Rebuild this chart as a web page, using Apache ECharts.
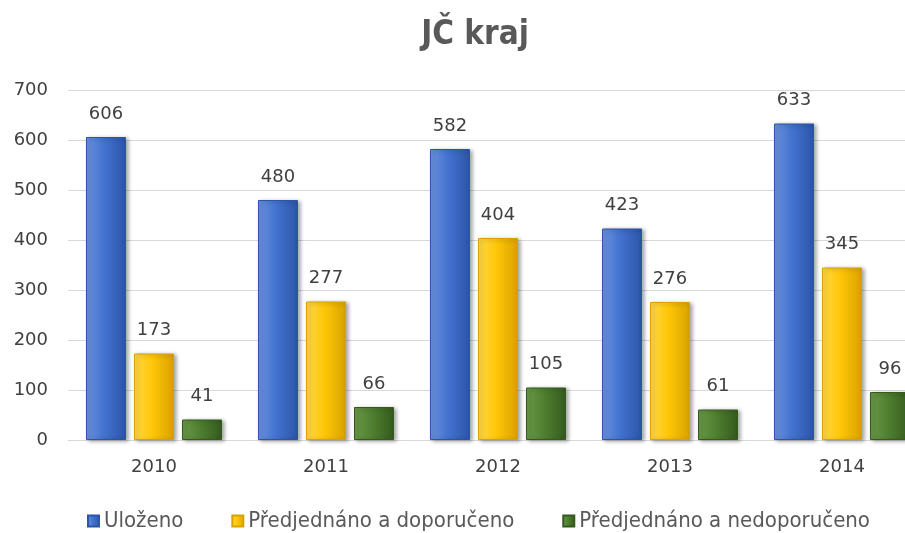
<!DOCTYPE html>
<html>
<head>
<meta charset="utf-8">
<script src="https://cdn.jsdelivr.net/npm/echarts@6/dist/echarts.min.js"></script>
<style>
  html, body { margin: 0; padding: 0; background: #fff; overflow: hidden; }
  /* plot area runs past the right edge in the source picture */
  #chart { width: 930px; height: 533px; }
</style>
</head>
<body>
<div id="chart"></div>
<script>
// data
const years = ['2010', '2011', '2012', '2013', '2014']
const ulozeno = [606, 480, 582, 423, 633]
const doporuceno = [173, 277, 404, 276, 345]
const nedoporuceno = [41, 66, 105, 61, 96]
const seriesNames = ['Uloženo', 'Předjednáno a doporučeno', 'Předjednáno a nedoporučeno']

const narrow = '"DejaVu Sans Condensed", "Liberation Sans Narrow", sans-serif'
const numFont = '"DejaVu Sans", Verdana, sans-serif'

// horizontal gradient to mimic the bevelled Excel bars
function bevel (light, mid, dark) {
  return new echarts.graphic.LinearGradient(0, 0, 1, 0, [
    { offset: 0, color: light },
    { offset: 0.45, color: mid },
    { offset: 1, color: dark }
  ])
}

function makeSeries (name, values, light, mid, dark) {
  return {
    name: name,
    type: 'bar',
    data: values,
    barWidth: 40,
    barGap: '20%',
    itemStyle: {
      color: bevel(light, mid, dark),
      borderColor: dark,
      borderWidth: 1,
      shadowColor: 'rgba(0,0,0,0.35)',
      shadowBlur: 4,
      shadowOffsetX: 2,
      shadowOffsetY: 1
    },
    label: {
      show: true,
      position: 'top',
      distance: 14,
      color: '#404040',
      fontFamily: numFont,
      fontSize: 18
    }
  }
}

const chart = echarts.init(document.getElementById('chart'))
chart.setOption({
  animation: false,
  title: {
    text: 'JČ kraj',
    left: 470,
    textAlign: 'center',
    top: 14,
    textStyle: {
      fontFamily: narrow,
      fontWeight: 'bold',
      fontSize: 33,
      color: '#595959'
    }
  },
  color: ['#4472c4', '#ffc000', '#4e7d2f'],
  legend: {
    bottom: -4,
    left: 82,
    itemWidth: 11,
    itemHeight: 11,
    itemGap: 48,
    icon: 'rect',
    data: seriesNames,
    textStyle: {
      fontFamily: narrow,
      fontSize: 22,
      color: '#595959'
    }
  },
  grid: {
    left: 68,
    top: 90,
    right: 2,
    height: 350
  },
  xAxis: {
    type: 'category',
    data: years,
    axisTick: { show: false },
    axisLine: { lineStyle: { color: '#d9d9d9' } },
    axisLabel: {
      margin: 18,
      color: '#404040',
      fontFamily: numFont,
      fontSize: 18
    }
  },
  yAxis: {
    type: 'value',
    min: 0,
    max: 700,
    interval: 100,
    axisLine: { show: false },
    axisTick: { show: false },
    splitLine: { lineStyle: { color: '#d9d9d9' } },
    axisLabel: {
      margin: 20,
      color: '#404040',
      fontFamily: numFont,
      fontSize: 18
    }
  },
  series: [
    makeSeries(seriesNames[0], ulozeno, '#6b93dc', '#4372d0', '#2c55a6'),
    makeSeries(seriesNames[1], doporuceno, '#ffd84a', '#ffc708', '#d9a200'),
    makeSeries(seriesNames[2], nedoporuceno, '#6a9a48', '#4f7f30', '#355a1e')
  ]
})
</script>
</body>
</html>
